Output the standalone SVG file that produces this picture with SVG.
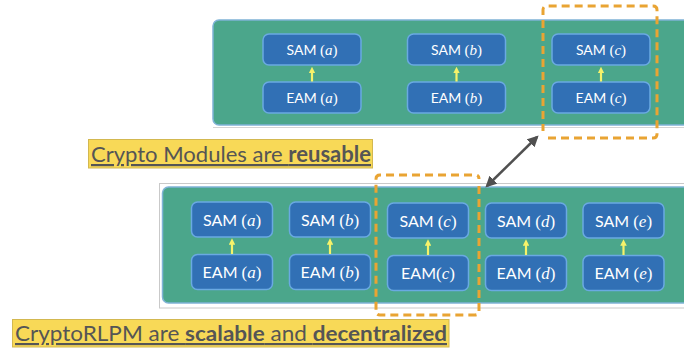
<svg xmlns="http://www.w3.org/2000/svg" width="684" height="350" viewBox="0 0 684 350">
<defs>
<style>
.panel{fill:#4ba68b;stroke:#7fb3d6;stroke-width:1.5}
.frame{fill:#ffffff;stroke:#c9c9c9;stroke-width:1}
.node{fill:#3170b5;stroke:#6aa9e2;stroke-width:1.5}
.lbl{fill:#ffffff;text-anchor:middle}
.sans{font-family:Lato,"Open Sans","Liberation Sans",sans-serif}
.ser{font-family:"Liberation Serif","DejaVu Serif",serif}
.it{font-style:italic}
.ya{stroke:#f6f26a;stroke-width:2.2;fill:none;marker-end:url(#yh)}
.dash{fill:none;stroke:#e9a433;stroke-width:3;stroke-dasharray:8 5}
.hl{fill:#f8d957;stroke:#d3b850;stroke-width:1}
.cap{font-family:Lato,"Open Sans","Liberation Sans",sans-serif;fill:#555555;text-decoration:underline}
</style>
<marker id="yh" viewBox="0 0 10 10" refX="2" refY="5" markerWidth="3" markerHeight="3" orient="auto" markerUnits="strokeWidth">
<path d="M0,0 L10,5 L0,10 z" fill="#f6f26a"/>
</marker>
<marker id="gh" viewBox="0 0 10 10" refX="8" refY="5" markerWidth="4.5" markerHeight="4.5" orient="auto-start-reverse" markerUnits="strokeWidth">
<path d="M0,0 L10,5 L0,10 z" fill="#505050"/>
</marker>
</defs>
<rect x="0" y="0" width="684" height="350" fill="#ffffff"/>

<g id="top-panel">
<line x1="213" y1="127.5" x2="684" y2="127.5" stroke="#d4d4d4" stroke-width="1"/>
<rect class="panel" x="213" y="20" width="490" height="105" rx="6"/>
</g>
<g id="bottom-panel">
<rect class="frame" x="159.5" y="183.5" width="540" height="124.5"/>
<rect class="panel" x="162.5" y="187" width="540" height="116" rx="6"/>
</g>

<g id="top-nodes">
<g id="t-sam-a"><rect class="node" x="263" y="34" width="98" height="31" rx="6"/><text class="lbl" x="312" y="54.5" font-size="14"><tspan class="sans">SAM </tspan><tspan class="ser" font-size="15">(</tspan><tspan class="ser it" font-size="15">a</tspan><tspan class="ser" font-size="15">)</tspan></text></g>
<g id="t-eam-a"><rect class="node" x="263" y="82" width="98" height="31" rx="6"/><text class="lbl" x="312" y="102.5" font-size="14"><tspan class="sans">EAM </tspan><tspan class="ser" font-size="15">(</tspan><tspan class="ser it" font-size="15">a</tspan><tspan class="ser" font-size="15">)</tspan></text></g>
<g id="t-sam-b"><rect class="node" x="407.5" y="34" width="98" height="31" rx="6"/><text class="lbl" x="456.5" y="54.5" font-size="14"><tspan class="sans">SAM </tspan><tspan class="ser" font-size="15">(</tspan><tspan class="ser it" font-size="15">b</tspan><tspan class="ser" font-size="15">)</tspan></text></g>
<g id="t-eam-b"><rect class="node" x="407.5" y="82" width="98" height="31" rx="6"/><text class="lbl" x="456.5" y="102.5" font-size="14"><tspan class="sans">EAM </tspan><tspan class="ser" font-size="15">(</tspan><tspan class="ser it" font-size="15">b</tspan><tspan class="ser" font-size="15">)</tspan></text></g>
<g id="t-sam-c"><rect class="node" x="552" y="34" width="98" height="31" rx="6"/><text class="lbl" x="601" y="54.5" font-size="14"><tspan class="sans">SAM </tspan><tspan class="ser" font-size="15">(</tspan><tspan class="ser it" font-size="15">c</tspan><tspan class="ser" font-size="15">)</tspan></text></g>
<g id="t-eam-c"><rect class="node" x="552" y="82" width="98" height="31" rx="6"/><text class="lbl" x="601" y="102.5" font-size="14"><tspan class="sans">EAM </tspan><tspan class="ser" font-size="15">(</tspan><tspan class="ser it" font-size="15">c</tspan><tspan class="ser" font-size="15">)</tspan></text></g>
</g>

<g id="bottom-nodes">
<g id="b-sam-a"><rect class="node" x="191.5" y="202" width="81" height="35" rx="6"/><text class="lbl" x="232" y="225.5" font-size="16"><tspan class="sans">SAM </tspan><tspan class="ser" font-size="17">(</tspan><tspan class="ser it" font-size="17">a</tspan><tspan class="ser" font-size="17">)</tspan></text></g>
<g id="b-eam-a"><rect class="node" x="191.5" y="254.5" width="81" height="35" rx="6"/><text class="lbl" x="232" y="278" font-size="16"><tspan class="sans">EAM </tspan><tspan class="ser" font-size="17">(</tspan><tspan class="ser it" font-size="17">a</tspan><tspan class="ser" font-size="17">)</tspan></text></g>
<g id="b-sam-b"><rect class="node" x="289.5" y="202" width="81" height="35" rx="6"/><text class="lbl" x="330" y="225.5" font-size="16"><tspan class="sans">SAM </tspan><tspan class="ser" font-size="17">(</tspan><tspan class="ser it" font-size="17">b</tspan><tspan class="ser" font-size="17">)</tspan></text></g>
<g id="b-eam-b"><rect class="node" x="289.5" y="254.5" width="81" height="35" rx="6"/><text class="lbl" x="330" y="278" font-size="16"><tspan class="sans">EAM </tspan><tspan class="ser" font-size="17">(</tspan><tspan class="ser it" font-size="17">b</tspan><tspan class="ser" font-size="17">)</tspan></text></g>
<g id="b-sam-c"><rect class="node" x="387.5" y="203" width="81" height="35" rx="6"/><text class="lbl" x="428" y="226.5" font-size="16"><tspan class="sans">SAM </tspan><tspan class="ser" font-size="17">(</tspan><tspan class="ser it" font-size="17">c</tspan><tspan class="ser" font-size="17">)</tspan></text></g>
<g id="b-eam-c"><rect class="node" x="387.5" y="255.5" width="81" height="35" rx="6"/><text class="lbl" x="428" y="279" font-size="16"><tspan class="sans">EAM</tspan><tspan class="ser" font-size="17">(</tspan><tspan class="ser it" font-size="17">c</tspan><tspan class="ser" font-size="17">)</tspan></text></g>
<g id="b-sam-d"><rect class="node" x="485.5" y="203" width="81" height="35" rx="6"/><text class="lbl" x="526" y="226.5" font-size="16"><tspan class="sans">SAM </tspan><tspan class="ser" font-size="17">(</tspan><tspan class="ser it" font-size="17">d</tspan><tspan class="ser" font-size="17">)</tspan></text></g>
<g id="b-eam-d"><rect class="node" x="485.5" y="255.5" width="81" height="35" rx="6"/><text class="lbl" x="526" y="279" font-size="16"><tspan class="sans">EAM </tspan><tspan class="ser" font-size="17">(</tspan><tspan class="ser it" font-size="17">d</tspan><tspan class="ser" font-size="17">)</tspan></text></g>
<g id="b-sam-e"><rect class="node" x="583" y="203" width="81" height="35" rx="6"/><text class="lbl" x="623.5" y="226.5" font-size="16"><tspan class="sans">SAM </tspan><tspan class="ser" font-size="17">(</tspan><tspan class="ser it" font-size="17">e</tspan><tspan class="ser" font-size="17">)</tspan></text></g>
<g id="b-eam-e"><rect class="node" x="583" y="255.5" width="81" height="35" rx="6"/><text class="lbl" x="623.5" y="279" font-size="16"><tspan class="sans">EAM </tspan><tspan class="ser" font-size="17">(</tspan><tspan class="ser it" font-size="17">e</tspan><tspan class="ser" font-size="17">)</tspan></text></g>
</g>

<g id="connectors">
<line class="ya" x1="312" y1="81.5" x2="312" y2="72"/>
<line class="ya" x1="456.5" y1="81.5" x2="456.5" y2="72"/>
<line class="ya" x1="601" y1="81.5" x2="601" y2="72"/>
<line class="ya" x1="232" y1="254" x2="232" y2="243.5"/>
<line class="ya" x1="330" y1="254" x2="330" y2="243.5"/>
<line class="ya" x1="428" y1="255" x2="428" y2="244.5"/>
<line class="ya" x1="526" y1="255" x2="526" y2="244.5"/>
<line class="ya" x1="623.5" y1="255" x2="623.5" y2="244.5"/>
<line x1="537" y1="137" x2="487" y2="186" stroke="#505050" stroke-width="2.5" marker-start="url(#gh)" marker-end="url(#gh)"/>
</g>

<g id="highlights">
<path class="dash" d="M548,138 L653,138 Q657,138 657,134 L657,10 Q657,6 653,6 L547,6 Q543,6 543,10 L543,131"/>
<path class="dash" d="M479,186 L479,311 Q479,315 475,315 L380,315 Q376,315 376,311 L376,179 Q376,175 380,175 L475,175 Q479,175 479,179"/>
</g>

<g id="caption-top">
<rect class="hl" x="88.5" y="139.5" width="284" height="28.5"/>
<text class="cap" x="91" y="162" font-size="22" textLength="280" lengthAdjust="spacingAndGlyphs">Crypto Modules are <tspan font-weight="bold">reusable</tspan></text>
</g>
<g id="caption-bottom">
<rect class="hl" x="12.5" y="319.5" width="436.5" height="27.5"/>
<text class="cap" x="15" y="341" font-size="21.5" textLength="432" lengthAdjust="spacingAndGlyphs">CryptoRLPM are <tspan font-weight="bold">scalable</tspan> and <tspan font-weight="bold">decentralized</tspan></text>
</g>
</svg>
